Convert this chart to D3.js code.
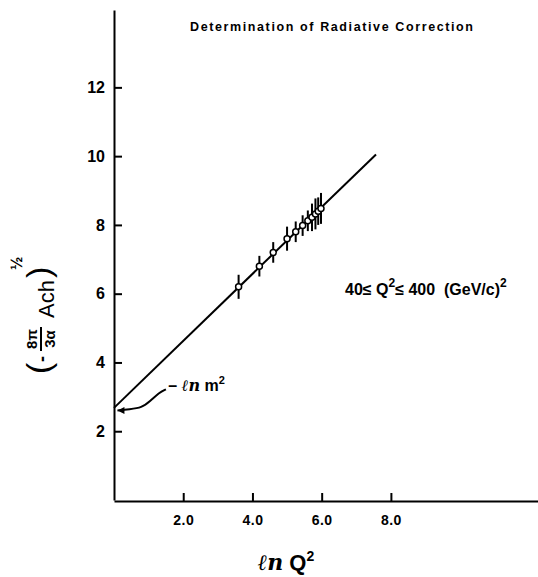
<!DOCTYPE html>
<html>
<head>
<meta charset="utf-8">
<script src="https://cdn.jsdelivr.net/npm/d3@7"></script>
<style>
  body { margin: 0; background: #fff; }
  svg { display: block; }
  text { fill: #000; font-family: "Liberation Sans", Arial, sans-serif; }
  .tick text { font-weight: bold; }
</style>
</head>
<body>
<svg id="chart" width="538" height="577"></svg>
<script>
// values
const lnQ2 = [3.6, 4.2, 4.6, 5.0, 5.25, 5.45, 5.6, 5.72, 5.82, 5.9, 5.98];
const ach = [6.2, 6.8, 7.2, 7.6, 7.8, 7.98, 8.12, 8.22, 8.32, 8.4, 8.48];
const err = [0.35, 0.3, 0.3, 0.35, 0.3, 0.3, 0.3, 0.4, 0.45, 0.4, 0.45];
const fitX = [0, 7.57];
const fitY = [2.68, 10.05];
const xTicks = [2, 4, 6, 8];
const yTicks = [2, 4, 6, 8, 10, 12];
// leader from the intercept to the "-ln m²" note
const leaderX = [0.1, 0.45, 0.8, 1.05, 1.3, 1.5];
const leaderY = [2.6, 2.64, 2.68, 2.88, 3.12, 3.22];

const svg = d3.select("#chart");
const x = d3.scaleLinear().domain([0, 12.25]).range([114, 538]);
const y = d3.scaleLinear().domain([0, 14.25]).range([500, 10]);

// axes, ticks pointing inward
svg.append("g")
    .attr("transform", "translate(0,501)")
    .call(d3.axisBottom(x).tickValues(xTicks).tickFormat(d3.format(".1f"))
        .tickSizeInner(-8).tickSizeOuter(0).tickPadding(14))
    .call(g => g.select(".domain").attr("stroke-width", 2))
    .call(g => g.selectAll(".tick line").attr("stroke-width", 2))
    .call(g => g.selectAll(".tick text").attr("font-size", 14).attr("letter-spacing", 0.5));

svg.append("g")
    .attr("transform", "translate(" + x(0) + ",0)")
    .call(d3.axisLeft(y).tickValues(yTicks).tickFormat(d3.format("d"))
        .tickSizeInner(-8).tickSizeOuter(0).tickPadding(9))
    .call(g => g.select(".domain").attr("stroke-width", 2))
    .call(g => g.selectAll(".tick line").attr("stroke-width", 2))
    .call(g => g.selectAll(".tick text").attr("font-size", 16));

// fitted line
const line = d3.line().x(d => x(d[0])).y(d => y(d[1]));
svg.append("path")
    .attr("d", line(d3.zip(fitX, fitY)))
    .attr("fill", "none").attr("stroke", "#000").attr("stroke-width", 2);

// error bars and points
const pts = d3.zip(lnQ2, ach, err);
svg.selectAll(".eb").data(pts).enter().append("line")
    .attr("x1", d => x(d[0])).attr("x2", d => x(d[0]))
    .attr("y1", d => y(d[1] - d[2])).attr("y2", d => y(d[1] + d[2]))
    .attr("stroke", "#000").attr("stroke-width", 2);
svg.selectAll(".pt").data(pts).enter().append("circle")
    .attr("cx", d => x(d[0])).attr("cy", d => y(d[1])).attr("r", 3)
    .attr("fill", "#fff").attr("stroke", "#000").attr("stroke-width", 1.5);

// leader curve and arrow head
svg.append("path")
    .attr("d", d3.line().curve(d3.curveBasis).x(d => x(d[0])).y(d => y(d[1]))(d3.zip(leaderX, leaderY)))
    .attr("fill", "none").attr("stroke", "#000").attr("stroke-width", 2);
const tip = [x(leaderX[0]), y(leaderY[0])];
svg.append("path")
    .attr("d", `M${tip[0]},${tip[1]} l7,-3.5 l0,7 Z`)
    .attr("fill", "#000");

svg.append("text")
    .attr("x", x(1.57)).attr("y", y(3.18))
    .attr("font-size", 16).attr("font-weight", "bold")
    .html('– <tspan font-style="italic" font-family="DejaVu Serif">ℓn</tspan> m<tspan dy="-7" font-size="11">2</tspan>');

// title
svg.append("text")
    .attr("x", 190).attr("y", 31)
    .attr("font-size", 12.5).attr("font-weight", "bold")
    .attr("textLength", 283).attr("lengthAdjust", "spacing")
    .text("Determination of Radiative Correction");

// range note
svg.append("text")
    .attr("x", 345).attr("y", 295)
    .attr("font-size", 16).attr("font-weight", "bold")
    .html('40≤ Q<tspan dy="-8" font-size="12">2</tspan><tspan dy="8">≤ 400 &#160;(GeV/c)</tspan><tspan dy="-8" font-size="12">2</tspan>');

// x label
svg.append("text")
    .attr("x", 286).attr("y", 570)
    .attr("text-anchor", "middle").attr("font-size", 22).attr("font-weight", "bold")
    .html('<tspan font-style="italic" font-family="DejaVu Serif">ℓn</tspan> Q<tspan dy="-9" font-size="14">2</tspan>');

// y label, rotated
const yl = svg.append("g").attr("transform", "translate(40,318) rotate(-90)");
yl.append("text").attr("x", -56).attr("y", 10).attr("font-size", 34).text("(");
yl.append("text").attr("x", -44).attr("y", 8).attr("font-size", 18).attr("font-weight", "bold").text("-");
yl.append("text").attr("x", -21).attr("y", -3).attr("text-anchor", "middle")
    .attr("font-size", 15).attr("font-weight", "bold").text("8π");
yl.append("line").attr("x1", -33).attr("x2", -9).attr("y1", 1).attr("y2", 1)
    .attr("stroke", "#000").attr("stroke-width", 2);
yl.append("text").attr("x", -21).attr("y", 15).attr("text-anchor", "middle")
    .attr("font-size", 15).attr("font-weight", "bold").text("3α");
yl.append("text").attr("x", 0).attr("y", 14).attr("font-size", 22).text("Ach");
yl.append("text").attr("x", 40).attr("y", 10).attr("font-size", 34).text(")");
yl.append("text").attr("x", 48).attr("y", -18).attr("font-size", 16).attr("font-weight", "bold").text("½");
</script>
</body>
</html>
